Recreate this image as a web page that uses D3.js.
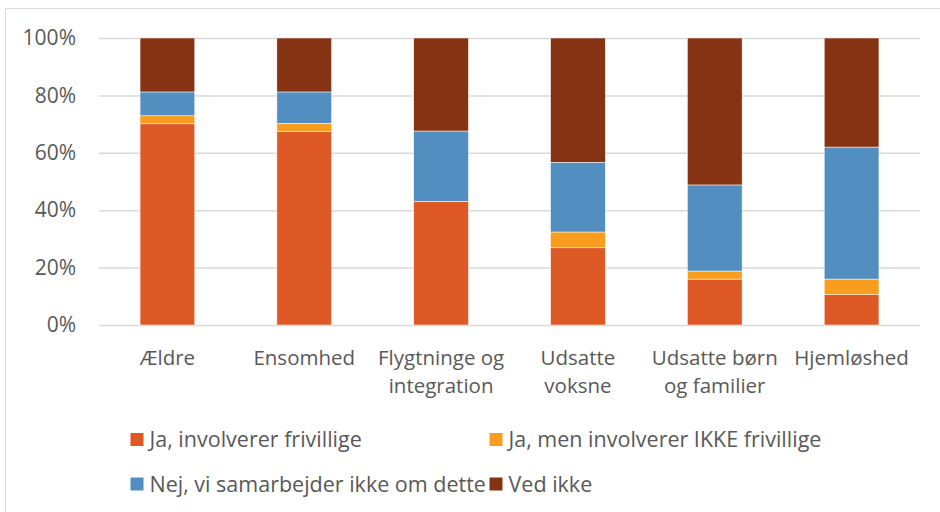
<!DOCTYPE html>
<html>
<head>
<meta charset="utf-8">
<script src="https://cdn.jsdelivr.net/npm/d3@7"></script>
<style>
  body { margin: 0; background: #fff; }
  text { font-family: "Open Sans", "Liberation Sans", sans-serif; fill: #595959; }
</style>
</head>
<body>
<div class="chartContainer"></div>
<script>
// ======= data ========
var categories = ["Ældre", "Ensomhed", "Flygtninge og integration", "Udsatte voksne", "Udsatte børn og familier", "Hjemløshed"];
var categoryLines = [["Ældre"], ["Ensomhed"], ["Flygtninge og", "integration"], ["Udsatte", "voksne"], ["Udsatte børn", "og familier"], ["Hjemløshed"]];
var seriesNames = ["Ja, involverer frivillige", "Ja, men involverer IKKE frivillige", "Nej, vi samarbejder ikke om dette", "Ved ikke"];
var jaFrivillige = [70.1, 67.4, 43.1, 26.9, 16.0, 10.6];
var jaIkkeFrivillige = [2.8, 2.9, 0, 5.5, 2.8, 5.4];
var nejSamarbejder = [8.3, 10.9, 24.5, 24.3, 30.0, 46.0];
var vedIkke = [18.8, 18.8, 32.4, 43.3, 51.2, 38.0];
var yTicks = [0, 20, 40, 60, 80, 100];
var colors = ["#dd5a27", "#f89d1e", "#528fc0", "#853313"];

var width = 940;
var height = 512;
var margin = {left: 99, right: 20, top: 38, bottom: 187};

var table = categories.map(function(c, i) {
  return {cat: c, s0: jaFrivillige[i], s1: jaIkkeFrivillige[i], s2: nejSamarbejder[i], s3: vedIkke[i]};
});

var svg = d3.select(".chartContainer")
  .append("svg")
    .attr("width", width)
    .attr("height", height);

// frame
svg.append("rect")
    .attr("x", 5.5).attr("y", 8.5)
    .attr("width", width).attr("height", height)
    .style("fill", "none")
    .style("stroke", "#d9d9d9");

var x = d3.scaleBand()
    .domain(categories)
    .range([margin.left, width - margin.right])
    .paddingInner(0.6)
    .paddingOuter(0.3);

var y = d3.scaleLinear()
    .domain([0, 100])
    .range([height - margin.bottom, margin.top]);

// ======= grid + y axis ========
var yAxis = svg.append("g")
    .attr("transform", "translate(" + margin.left + ",0)")
    .call(d3.axisLeft(y).tickValues(yTicks).tickSize(-(width - margin.right - margin.left)).tickPadding(23).tickFormat(function(d){ return d + "%"; }));

yAxis.select(".domain").remove();
yAxis.selectAll(".tick line").style("stroke", "#d9d9d9").style("stroke-width", 1.5);
yAxis.selectAll(".tick text").style("font-size", "21px").style("fill", "#595959");

// ======= bars ========
var stack = d3.stack().keys(["s0", "s1", "s2", "s3"]);
var layers = stack(table);

svg.selectAll(".layer")
    .data(layers)
  .enter().append("g")
    .attr("class", "layer")
    .style("fill", function(d, i) { return colors[i]; })
  .selectAll("rect")
    .data(function(d) { return d; })
  .enter().append("rect")
    .attr("x", function(d) { return x(d.data.cat); })
    .attr("y", function(d) { return y(d[1]); })
    .attr("width", x.bandwidth())
    .attr("height", function(d) { return y(d[0]) - y(d[1]); })
    .style("stroke", "#fff")
    .style("stroke-width", 0.5);

// ======= category labels ========
var labels = svg.selectAll(".catLabel")
    .data(categories)
  .enter().append("text")
    .attr("class", "catLabel")
    .attr("text-anchor", "middle")
    .attr("x", function(d) { return x(d) + x.bandwidth() / 2; })
    .attr("y", 365)
    .style("font-size", "20.5px");

labels.selectAll("tspan")
    .data(function(d, i) { return categoryLines[i]; })
  .enter().append("tspan")
    .attr("x", function() { return d3.select(this.parentNode).attr("x"); })
    .attr("dy", function(d, i) { return i === 0 ? 0 : 28; })
    .text(function(d) { return d; });

// ======= legend ========
var legendPos = [[130.5, 439.5], [489.5, 439.5], [130.5, 484], [489.5, 484]];

var legend = svg.selectAll(".legendItem")
    .data(seriesNames)
  .enter().append("g")
    .attr("class", "legendItem")
    .attr("transform", function(d, i) { return "translate(" + legendPos[i][0] + "," + legendPos[i][1] + ")"; });

legend.append("rect")
    .attr("x", 0).attr("y", -6.5)
    .attr("width", 13).attr("height", 13)
    .style("fill", function(d, i) { return colors[i]; });

legend.append("text")
    .attr("x", 19)
    .attr("dy", "0.35em")
    .style("font-size", "21.5px")
    .text(function(d) { return d; });
</script>
</body>
</html>
